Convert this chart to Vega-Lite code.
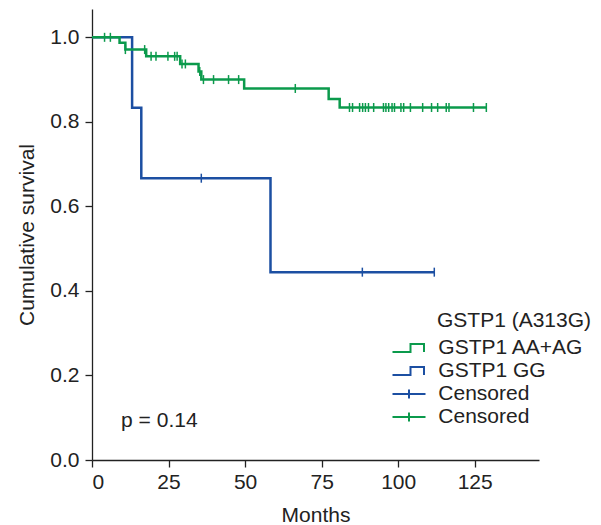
{
  "$schema": "https://vega.github.io/schema/vega-lite/v6.json",
  "autosize": "none",
  "width": 447,
  "height": 451,
  "padding": {"left": 92, "top": 9, "right": 62, "bottom": 65},
  "background": "white",
  "config": {
    "view": {"stroke": null},
    "font": "Liberation Sans",
    "axis": {
      "grid": false,
      "domainColor": "#222222",
      "domainWidth": 1.3,
      "tickColor": "#222222",
      "tickWidth": 1.3,
      "tickSize": 7,
      "labelFont": "Liberation Sans",
      "labelFontSize": 21,
      "labelColor": "#222222",
      "titleFont": "Liberation Sans",
      "titleFontSize": 21,
      "titleFontWeight": "normal",
      "titleColor": "#222222"
    },
    "legend": {
      "labelFont": "Liberation Sans",
      "titleFont": "Liberation Sans"
    }
  },
  "datasets": {
    "curves": [
      {"grp": "GG", "t": 0, "s": 1},
      {"grp": "GG", "t": 13.1, "s": 0.8333},
      {"grp": "GG", "t": 16.1, "s": 0.6667},
      {"grp": "GG", "t": 58.3, "s": 0.4444},
      {"grp": "GG", "t": 111.8, "s": 0.4444},
      {"grp": "AA", "t": 0, "s": 1},
      {"grp": "AA", "t": 9.0, "s": 0.987},
      {"grp": "AA", "t": 10.9, "s": 0.971},
      {"grp": "AA", "t": 17.7, "s": 0.955},
      {"grp": "AA", "t": 28.8, "s": 0.937},
      {"grp": "AA", "t": 34.8, "s": 0.919},
      {"grp": "AA", "t": 35.7, "s": 0.900},
      {"grp": "AA", "t": 49.7, "s": 0.879},
      {"grp": "AA", "t": 77.3, "s": 0.854},
      {"grp": "AA", "t": 80.9, "s": 0.834},
      {"grp": "AA", "t": 128.8, "s": 0.834}
    ],
    "censors": [
      {"grp": "CensGG", "t": 35.7, "s": 0.6667},
      {"grp": "CensGG", "t": 88.3, "s": 0.4444},
      {"grp": "CensGG", "t": 111.8, "s": 0.4444},
      {"grp": "CensAA", "t": 4.1, "s": 1},
      {"grp": "CensAA", "t": 6.0, "s": 1},
      {"grp": "CensAA", "t": 10.9, "s": 0.971},
      {"grp": "CensAA", "t": 17.2, "s": 0.971},
      {"grp": "CensAA", "t": 19.3, "s": 0.955},
      {"grp": "CensAA", "t": 20.9, "s": 0.955},
      {"grp": "CensAA", "t": 24.8, "s": 0.955},
      {"grp": "CensAA", "t": 27.0, "s": 0.955},
      {"grp": "CensAA", "t": 27.8, "s": 0.955},
      {"grp": "CensAA", "t": 29.4, "s": 0.937},
      {"grp": "CensAA", "t": 30.5, "s": 0.937},
      {"grp": "CensAA", "t": 35.2, "s": 0.919},
      {"grp": "CensAA", "t": 36.4, "s": 0.900},
      {"grp": "CensAA", "t": 39.7, "s": 0.900},
      {"grp": "CensAA", "t": 44.6, "s": 0.900},
      {"grp": "CensAA", "t": 47.9, "s": 0.900},
      {"grp": "CensAA", "t": 66.4, "s": 0.879},
      {"grp": "CensAA", "t": 84.1, "s": 0.834},
      {"grp": "CensAA", "t": 85.1, "s": 0.834},
      {"grp": "CensAA", "t": 87.4, "s": 0.834},
      {"grp": "CensAA", "t": 88.4, "s": 0.834},
      {"grp": "CensAA", "t": 89.3, "s": 0.834},
      {"grp": "CensAA", "t": 90.3, "s": 0.834},
      {"grp": "CensAA", "t": 92.0, "s": 0.834},
      {"grp": "CensAA", "t": 95.2, "s": 0.834},
      {"grp": "CensAA", "t": 96.0, "s": 0.834},
      {"grp": "CensAA", "t": 96.9, "s": 0.834},
      {"grp": "CensAA", "t": 98.0, "s": 0.834},
      {"grp": "CensAA", "t": 98.8, "s": 0.834},
      {"grp": "CensAA", "t": 100.9, "s": 0.834},
      {"grp": "CensAA", "t": 101.8, "s": 0.834},
      {"grp": "CensAA", "t": 104.0, "s": 0.834},
      {"grp": "CensAA", "t": 108.0, "s": 0.834},
      {"grp": "CensAA", "t": 110.9, "s": 0.834},
      {"grp": "CensAA", "t": 112.9, "s": 0.834},
      {"grp": "CensAA", "t": 115.7, "s": 0.834},
      {"grp": "CensAA", "t": 116.6, "s": 0.834},
      {"grp": "CensAA", "t": 124.6, "s": 0.834},
      {"grp": "CensAA", "t": 128.8, "s": 0.834}
    ],
    "note": [{"label": "p = 0.14", "t": 9.5, "s": 0.0774}]
  },
  "layer": [
    {
      "data": {"name": "curves"},
      "transform": [{"filter": "datum.grp === 'GG'"}],
      "mark": {"type": "line", "interpolate": "step-after", "strokeWidth": 2.5},
      "encoding": {
        "x": {
          "field": "t",
          "type": "quantitative",
          "title": "Months",
          "scale": {"domain": [0, 146], "nice": false, "zero": false},
          "axis": {"values": [0, 25, 50, 75, 100, 125], "labelPadding": 4, "titlePadding": 12}
        },
        "y": {
          "field": "s",
          "type": "quantitative",
          "title": "Cumulative survival",
          "scale": {"domain": [0, 1.067], "nice": false, "zero": false},
          "axis": {"values": [0, 0.2, 0.4, 0.6, 0.8, 1.0], "format": ".1f", "labelPadding": 6, "titlePadding": 12}
        },
        "color": {
          "field": "grp",
          "type": "nominal",
          "scale": {"domain": ["AA", "GG", "CensGG", "CensAA"], "range": ["#0b9a4c", "#1c4fa2", "#1c4fa2", "#0b9a4c"]},
          "legend": {
            "title": "GSTP1 (A313G)",
            "orient": "none",
            "legendX": 306,
            "legendY": 301,
            "padding": 0,
            "titleFontSize": 21,
            "titleFontWeight": "normal",
            "titleColor": "#222222",
            "titleAnchor": "start",
            "titlePadding": 6,
            "labelFontSize": 21,
            "labelColor": "#222222",
            "labelOffset": 18.3,
            "rowPadding": 2,
            "symbolSize": 400,
            "symbolStrokeWidth": 2,
            "labelExpr": "datum.value === 'AA' ? 'GSTP1 AA+AG' : datum.value === 'GG' ? 'GSTP1 GG' : 'Censored'",
            "encode": {
              "title": {"update": {"dx": {"value": 39}}},
              "symbols": {
                "update": {
                  "shape": {"signal": "(datum.value === 'AA' || datum.value === 'GG') ? 'M-1.65,0.4H0.15V-0.4H1.5V0.4' : 'M-1.65,0H1.65M0,-0.45V0.45'"},
                  "fill": {"value": "transparent"},
                  "strokeWidth": {"value": 2}
                }
              }
            }
          }
        }
      }
    },
    {
      "data": {"name": "curves"},
      "transform": [{"filter": "datum.grp === 'AA'"}],
      "mark": {"type": "line", "interpolate": "step-after", "strokeWidth": 2.5},
      "encoding": {
        "x": {"field": "t", "type": "quantitative"},
        "y": {"field": "s", "type": "quantitative"},
        "color": {"field": "grp", "type": "nominal"}
      }
    },
    {
      "data": {"name": "censors"},
      "mark": {"type": "point", "shape": "M0,-1V1", "size": 81, "filled": false, "strokeWidth": 1.5, "opacity": 1},
      "encoding": {
        "x": {"field": "t", "type": "quantitative"},
        "y": {"field": "s", "type": "quantitative"},
        "color": {"field": "grp", "type": "nominal"}
      }
    },
    {
      "data": {"name": "note"},
      "mark": {"type": "text", "align": "left", "baseline": "alphabetic", "fontSize": 21, "font": "Liberation Sans", "color": "#222222"},
      "encoding": {
        "x": {"field": "t", "type": "quantitative"},
        "y": {"field": "s", "type": "quantitative"},
        "text": {"field": "label", "type": "nominal"}
      }
    }
  ]
}
